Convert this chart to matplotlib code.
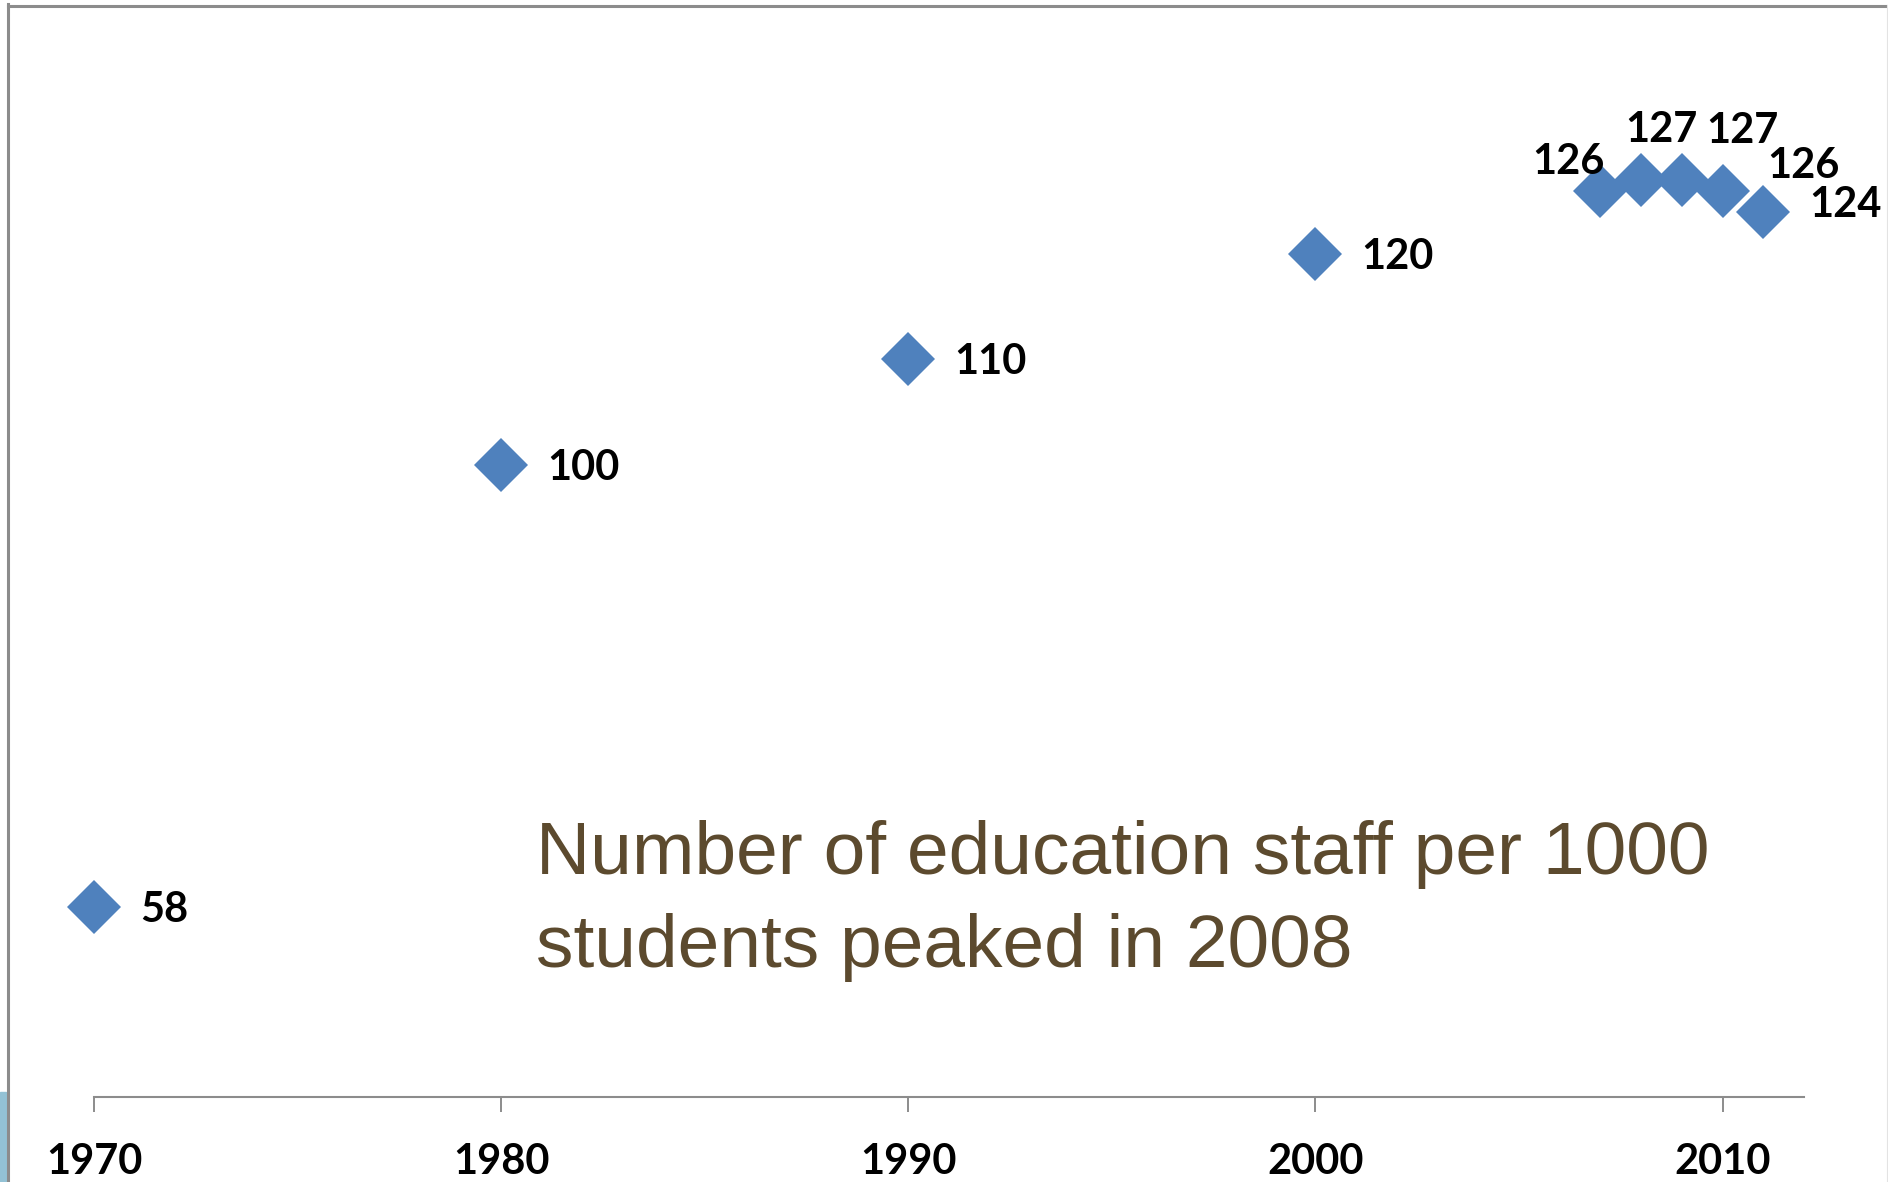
import matplotlib.pyplot as plt
from matplotlib.lines import Line2D
from matplotlib.patches import Rectangle

# Education staff per 1000 students
years = [1970, 1980, 1990, 2000, 2007, 2008, 2009, 2010, 2011]
staff_per_1000 = [58, 100, 110, 120, 126, 127, 127, 126, 124]
tick_years = [1970, 1980, 1990, 2000, 2010]

# data label placement (pixels from the marker, text baseline / left edge)
label_offsets = [(46, -15), (46, -15), (46, -15), (46, -15),
                 (-68, 17), (-16, 38), (24, 37), (45, 13), (46, -5)]

W, H, DPI = 1888, 1182, 100
fig = plt.figure(figsize=(W / DPI, H / DPI), dpi=DPI)
fig.patch.set_facecolor('white')

# plot area: 1970 tick at x=94px, axis line at y=1097px
ax = fig.add_axes([94 / W, 1 - 1097 / H, 1710 / W, 1054 / H])
ax.set_xlim(1970, 2012)
ax.set_ylim(40, 140)

blue = '#4F81BD'
ax.plot(years, staff_per_1000, linestyle='none', marker='D', markersize=27.5,
        color=blue, markeredgewidth=0, clip_on=False, zorder=3)

for x, y, (dx, dy) in zip(years, staff_per_1000, label_offsets):
    ax.annotate(str(y), (x, y), xytext=(dx, dy), textcoords='offset pixels',
                ha='left', va='baseline', fontsize=30, fontweight='bold',
                family='Lato', color='black', annotation_clip=False, zorder=4)

for side in ['left', 'right', 'top']:
    ax.spines[side].set_visible(False)
ax.spines['bottom'].set_color('#8C8C8C')
ax.spines['bottom'].set_linewidth(1.5)
ax.set_yticks([])
ax.set_xticks(tick_years)
ax.set_xticklabels([str(t) for t in tick_years], fontsize=30, fontweight='bold',
                   family='Lato')
ax.tick_params(axis='x', direction='out', length=10.8, width=1.4,
               color='#8C8C8C', pad=22)
ax.patch.set_alpha(0)

# baseline alignment applies to the last line here
fig.text(536 / W, 1 - 967 / H,
         'Number of education staff per 1000\nstudents peaked in 2008',
         family='Liberation Sans', fontsize=54, color='#5C4A2E',
         ha='left', va='baseline', linespacing=1.45)

# slide frame
fig.add_artist(Line2D([8 / W, 1], [1 - 5.5 / H, 1 - 5.5 / H], color='#8C8C8C',
                      linewidth=2.2, transform=fig.transFigure))
fig.add_artist(Line2D([8 / W, 8 / W], [0, 1 - 4 / H], color='#8C8C8C',
                      linewidth=2.2, transform=fig.transFigure))
fig.add_artist(Line2D([1886.5 / W, 1886.5 / W], [0, 1 - 5 / H], color='#E3E3E3',
                      linewidth=0.8, transform=fig.transFigure))
fig.add_artist(Rectangle((0, 0), 6 / W, 90 / H, color='#93C2D5',
                         transform=fig.transFigure))

fig.savefig('out.png', dpi=DPI)
